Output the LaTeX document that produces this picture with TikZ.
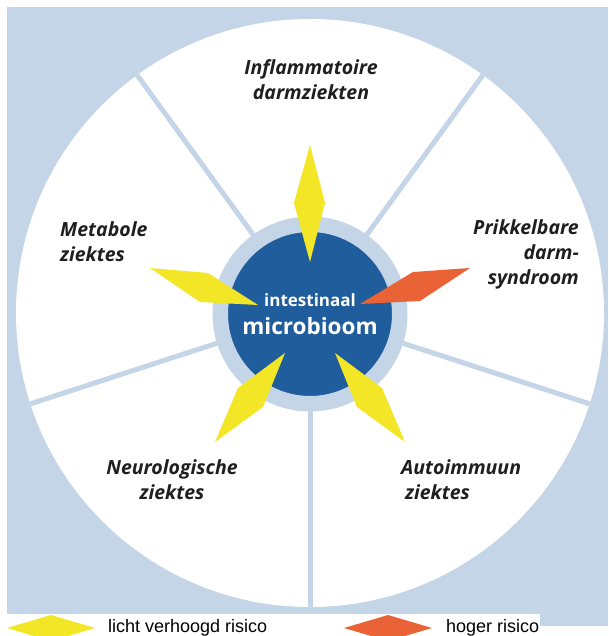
\documentclass[tikz,border=0pt]{standalone}
\usepackage{fontspec}
\setmainfont{Open Sans}
\newfontfamily\legendfont{Liberation Sans}
\usetikzlibrary{positioning}

\definecolor{paleblue}{HTML}{C4D5E7}
\definecolor{deepblue}{HTML}{1F5D9C}
\definecolor{sunyellow}{HTML}{F3E626}
\definecolor{riskorange}{HTML}{EA6336}

\tikzset{
    spoke/.style={draw=paleblue, line width=5pt},
    core/.style={circle, fill=deepblue, draw=paleblue, line width=15.5pt,
        minimum size=179.5pt, inner sep=0pt, text=white, align=center},
    ziekte/.style={font=\fontsize{19.5}{25}\selectfont\bfseries\itshape,
        text=black!88, inner sep=0pt},
    mild/.style={fill=sunyellow},
    hoog/.style={fill=riskorange},
    legendtxt/.style={font=\legendfont\fontsize{18}{20}\selectfont,
        anchor=base west, inner sep=0pt}
}

\begin{document}
\begin{tikzpicture}[x=1pt, y=-1pt]
    \useasboundingbox (0,0) rectangle (608,636);

    % achtergrond
    \fill[paleblue] (7,7) rectangle (608,614);
    \fill[paleblue] (540,613) rectangle (608,626);
    \coordinate (mid) at (310,313);
    \fill[white] (mid) circle (294pt);

    % spaken tussen de sectoren
    \foreach \a in {54,126,198,270,342} {
        \draw[spoke] (mid) -- ++(\a:294pt);
    }

    \node[core, font=\bfseries] (kern) at ([yshift=-1pt]mid) {%
        {\fontsize{17}{20}\selectfont intestinaal}\\[10pt]
        {\fontsize{22.5}{26}\selectfont microbioom}};

    % pijlen
    \fill[mild] (310,145) -- (325,203) -- (310,262) -- (294,203) -- cycle;
    \fill[mild] (150,268) -- (208,273) -- (258,305) -- (200,302) -- cycle;
    \fill[hoog] (470,268) -- (413,272) -- (360,304) -- (420,301) -- cycle;
    \fill[mild] (285,353) -- (238,388) -- (215,442) -- (263,407) -- cycle;
    \fill[mild] (335,353) -- (382,388) -- (405,442) -- (357,407) -- cycle;

    % ziektes
    \node[ziekte, align=center] (ibd) at (311,80) {Inflammatoire\\darmziekten};
    \node[ziekte, align=right, anchor=east] (ibs) at (579,254) {Prikkelbare\\darm-\\syndroom};
    \node[ziekte, align=left, anchor=west] (metab) at (60,242) {Metabole\\ziektes};
    \node[ziekte, align=center] (neuro) at (172,480) {Neurologische\\ziektes};
    \node[ziekte, align=left, anchor=west] (auto) at (401,480) {Autoimmuun\\\hspace*{4pt}ziektes};

    % legenda
    \fill[mild] (7,628) -- (51,615) -- (95,628) -- (51,641) -- cycle;
    \node[legendtxt] (lichttxt) at (108,632) {licht verhoogd risico};
    \fill[hoog] (344,628) -- (388,615) -- (432,628) -- (388,641) -- cycle;
    \node[legendtxt] (hoogtxt) at (446,632) {hoger risico};
\end{tikzpicture}
\end{document}
